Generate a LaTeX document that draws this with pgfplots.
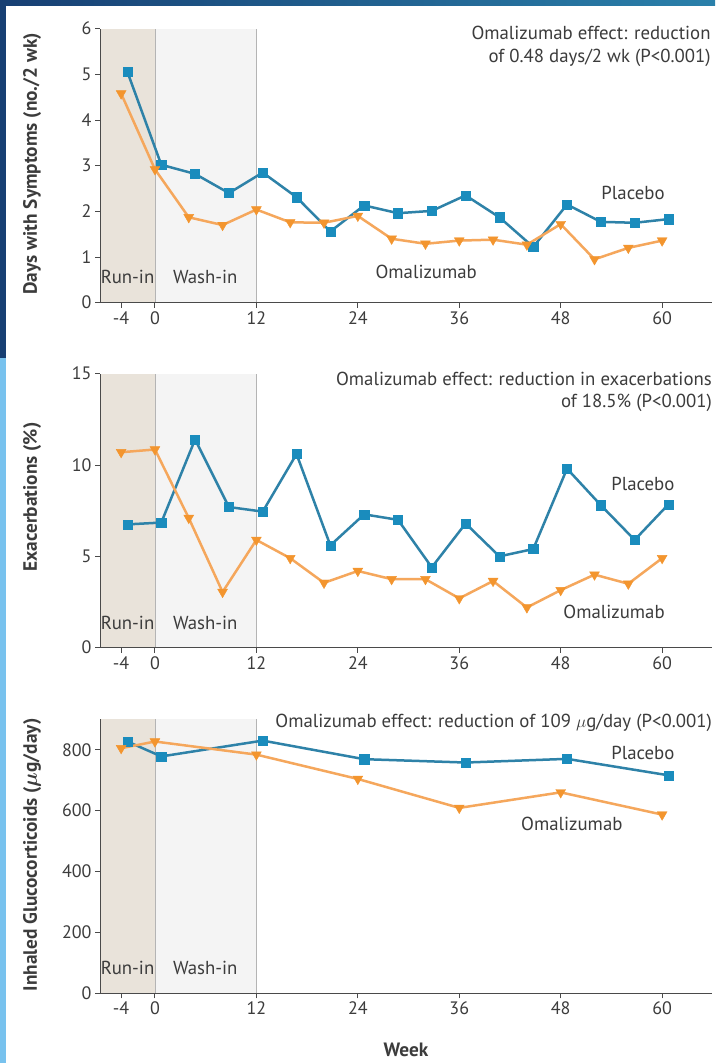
\documentclass[border=0pt]{standalone}
\usepackage{amsmath}
\usepackage{pgfplots}
\pgfplotsset{compat=1.18}
\usepackage{fontspec}
\setmainfont{PT Sans}

\definecolor{placebo}{HTML}{1A8CBD}
\definecolor{placeboline}{HTML}{2E82A8}
\definecolor{omal}{HTML}{F3952E}
\definecolor{omalline}{HTML}{F5A75C}
\definecolor{runin}{HTML}{E9E3DA}
\definecolor{washin}{HTML}{F4F4F4}
\definecolor{axisgray}{HTML}{4A4A4A}
\definecolor{textgray}{HTML}{3C3C3C}
\definecolor{phaseline}{HTML}{B4B4B4}
\definecolor{slidedark}{HTML}{173F73}
\definecolor{slidemid}{HTML}{2A80AA}
\definecolor{slidelight}{HTML}{78C2EE}

% Symptom days, per 2-week interval
\pgfplotstableread{
week val
-3.25 5.05
0.75 3.02
4.75 2.82
8.75 2.40
12.75 2.85
16.75 2.31
20.75 1.56
24.75 2.13
28.75 1.96
32.75 2.01
36.75 2.35
40.75 1.87
44.75 1.22
48.75 2.15
52.75 1.77
56.75 1.75
60.75 1.83
}\symPlacebo
\pgfplotstableread{
week val
-4 4.58
0 2.92
4 1.87
8 1.70
12 2.04
16 1.76
20 1.75
24 1.90
28 1.40
32 1.29
36 1.36
40 1.38
44 1.27
48 1.72
52 0.95
56 1.20
60 1.36
}\symOmal
% Exacerbations, percent of patients
\pgfplotstableread{
week val
-3.25 6.75
0.75 6.85
4.75 11.4
8.75 7.7
12.75 7.45
16.75 10.6
20.75 5.6
24.75 7.3
28.75 7.0
32.75 4.4
36.75 6.8
40.75 5.0
44.75 5.4
48.75 9.8
52.75 7.8
56.75 5.9
60.75 7.85
}\exaPlacebo
\pgfplotstableread{
week val
-4 10.7
0 10.85
4 7.1
8 3.05
12 5.9
16 4.9
20 3.55
24 4.2
28 3.75
32 3.75
36 2.7
40 3.65
44 2.2
48 3.15
52 4.0
56 3.5
60 4.9
}\exaOmal
% Inhaled glucocorticoid dose, ug/day
\pgfplotstableread{
week val
-3.25 827
0.75 778
12.75 830
24.75 769
36.75 758
48.75 770
60.75 716
}\icsPlacebo
\pgfplotstableread{
week val
-4 805
0 827
12 784
24 704
36 609
48 660
60 587
}\icsOmal

\pgfplotsset{
  trialpanel/.style={
    scale only axis, width=612pt, height=274pt,
    xmin=-6.5, xmax=65.9, ymin=0,
    axis lines*=left,
    axis line style={axisgray, line width=0.9pt},
    xtick={-4,0,12,24,36,48,60},
    tick align=outside, major tick length=5pt,
    tick style={axisgray, line width=0.9pt},
    ticklabel style={font=\fontsize{18}{21}\selectfont, text=textgray},
    /pgf/number format/assume math mode=true,
    ylabel style={font=\bfseries\fontsize{19.3}{22}\selectfont, text=textgray, anchor=center},
    clip=false, axis on top,
  },
  placebo/.style={placeboline, line width=2.5pt, mark=square*, mark size=4.6pt,
    mark options={fill=placebo, draw=placebo, line width=0.4pt}},
  omal/.style={omalline, line width=2.5pt, mark=triangle*, mark size=5.7pt,
    mark options={rotate=180, fill=omal, draw=omal, line width=0.4pt}},
}
\tikzset{lbl/.style={font=\fontsize{18.8}{22}\selectfont, text=textgray, inner sep=0pt}}

\newcommand{\phases}[1]{%
  \fill[runin] (axis cs:-6.5,0) rectangle (axis cs:0,#1);
  \fill[washin] (axis cs:0,0) rectangle (axis cs:12,#1);
  \draw[phaseline, line width=0.8pt] (axis cs:0,0) -- (axis cs:0,#1);
  \draw[phaseline, line width=0.8pt] (axis cs:12,0) -- (axis cs:12,#1);
}

\begin{document}
\begin{tikzpicture}
\path[use as bounding box, fill=white] (0pt,0pt) rectangle (715pt,1063pt);
% slide frame
\shade[left color=slidedark, right color=slidemid] (0pt,1057pt) rectangle (715pt,1063pt);
\fill[slidedark] (0pt,705pt) rectangle (6pt,1063pt);
\fill[slidelight] (0pt,0pt) rectangle (6pt,705pt);

% Days with symptoms
\begin{axis}[trialpanel, at={(100pt,760.3pt)}, anchor=south west,
  ymax=6, ytick={0,...,6},
  ylabel={Days with Symptoms (no./2 wk)},
  ylabel style={at={(axis description cs:-0.111,0.507)}}]
  \phases{6}
  \addplot[placebo] table[x=week, y=val] {\symPlacebo};
  \addplot[omal] table[x=week, y=val] {\symOmal};
  \node[lbl, anchor=east] at (rel axis cs:0.998,0.983) {Omalizumab effect: reduction};
  \node[lbl, anchor=east] at (rel axis cs:0.998,0.895) {of 0.48 days/2 wk (P<0.001)};
  \node[lbl] at (rel axis cs:0.871,0.400) {Placebo};
  \node[lbl] at (rel axis cs:0.533,0.112) {Omalizumab};
  \node[lbl] at (rel axis cs:0.045,0.093) {Run-in};
  \node[lbl] at (rel axis cs:0.172,0.093) {Wash-in};
\end{axis}

% Exacerbations
\begin{axis}[trialpanel, at={(100pt,415.3pt)}, anchor=south west,
  ymax=15, ytick={0,5,10,15},
  ylabel={Exacerbations (\%)},
  ylabel style={at={(axis description cs:-0.111,0.55)}}]
  \phases{15}
  \addplot[placebo] table[x=week, y=val] {\exaPlacebo};
  \addplot[omal] table[x=week, y=val] {\exaOmal};
  \node[lbl, anchor=east] at (rel axis cs:1.0,0.981) {Omalizumab effect: reduction in exacerbations};
  \node[lbl, anchor=east] at (rel axis cs:1.0,0.894) {of 18.5\% (P<0.001)};
  \node[lbl] at (rel axis cs:0.887,0.599) {Placebo};
  \node[lbl] at (rel axis cs:0.840,0.130) {Omalizumab};
  \node[lbl] at (rel axis cs:0.045,0.090) {Run-in};
  \node[lbl] at (rel axis cs:0.172,0.090) {Wash-in};
\end{axis}

% Inhaled glucocorticoids
\begin{axis}[trialpanel, at={(100pt,69.7pt)}, anchor=south west,
  ymax=900, ytick={0,200,...,800},
  ylabel={Inhaled Glucocorticoids ($\boldsymbol{\mu}$g/day)},
  ylabel style={at={(axis description cs:-0.111,0.505)}},
  xlabel={Week},
  xlabel style={at={(axis description cs:0.5,-0.207)}, anchor=center,
    font=\bfseries\fontsize{19.3}{22}\selectfont, text=textgray}]
  \phases{900}
  \addplot[placebo] table[x=week, y=val] {\icsPlacebo};
  \addplot[omal] table[x=week, y=val] {\icsOmal};
  \node[lbl, anchor=east] at (rel axis cs:1.0,0.988) {Omalizumab effect: reduction of 109 $\mu$g/day (P<0.001)};
  \node[lbl] at (rel axis cs:0.887,0.878) {Placebo};
  \node[lbl] at (rel axis cs:0.771,0.619) {Omalizumab};
  \node[lbl] at (rel axis cs:0.045,0.092) {Run-in};
  \node[lbl] at (rel axis cs:0.172,0.092) {Wash-in};
\end{axis}
\end{tikzpicture}
\end{document}
